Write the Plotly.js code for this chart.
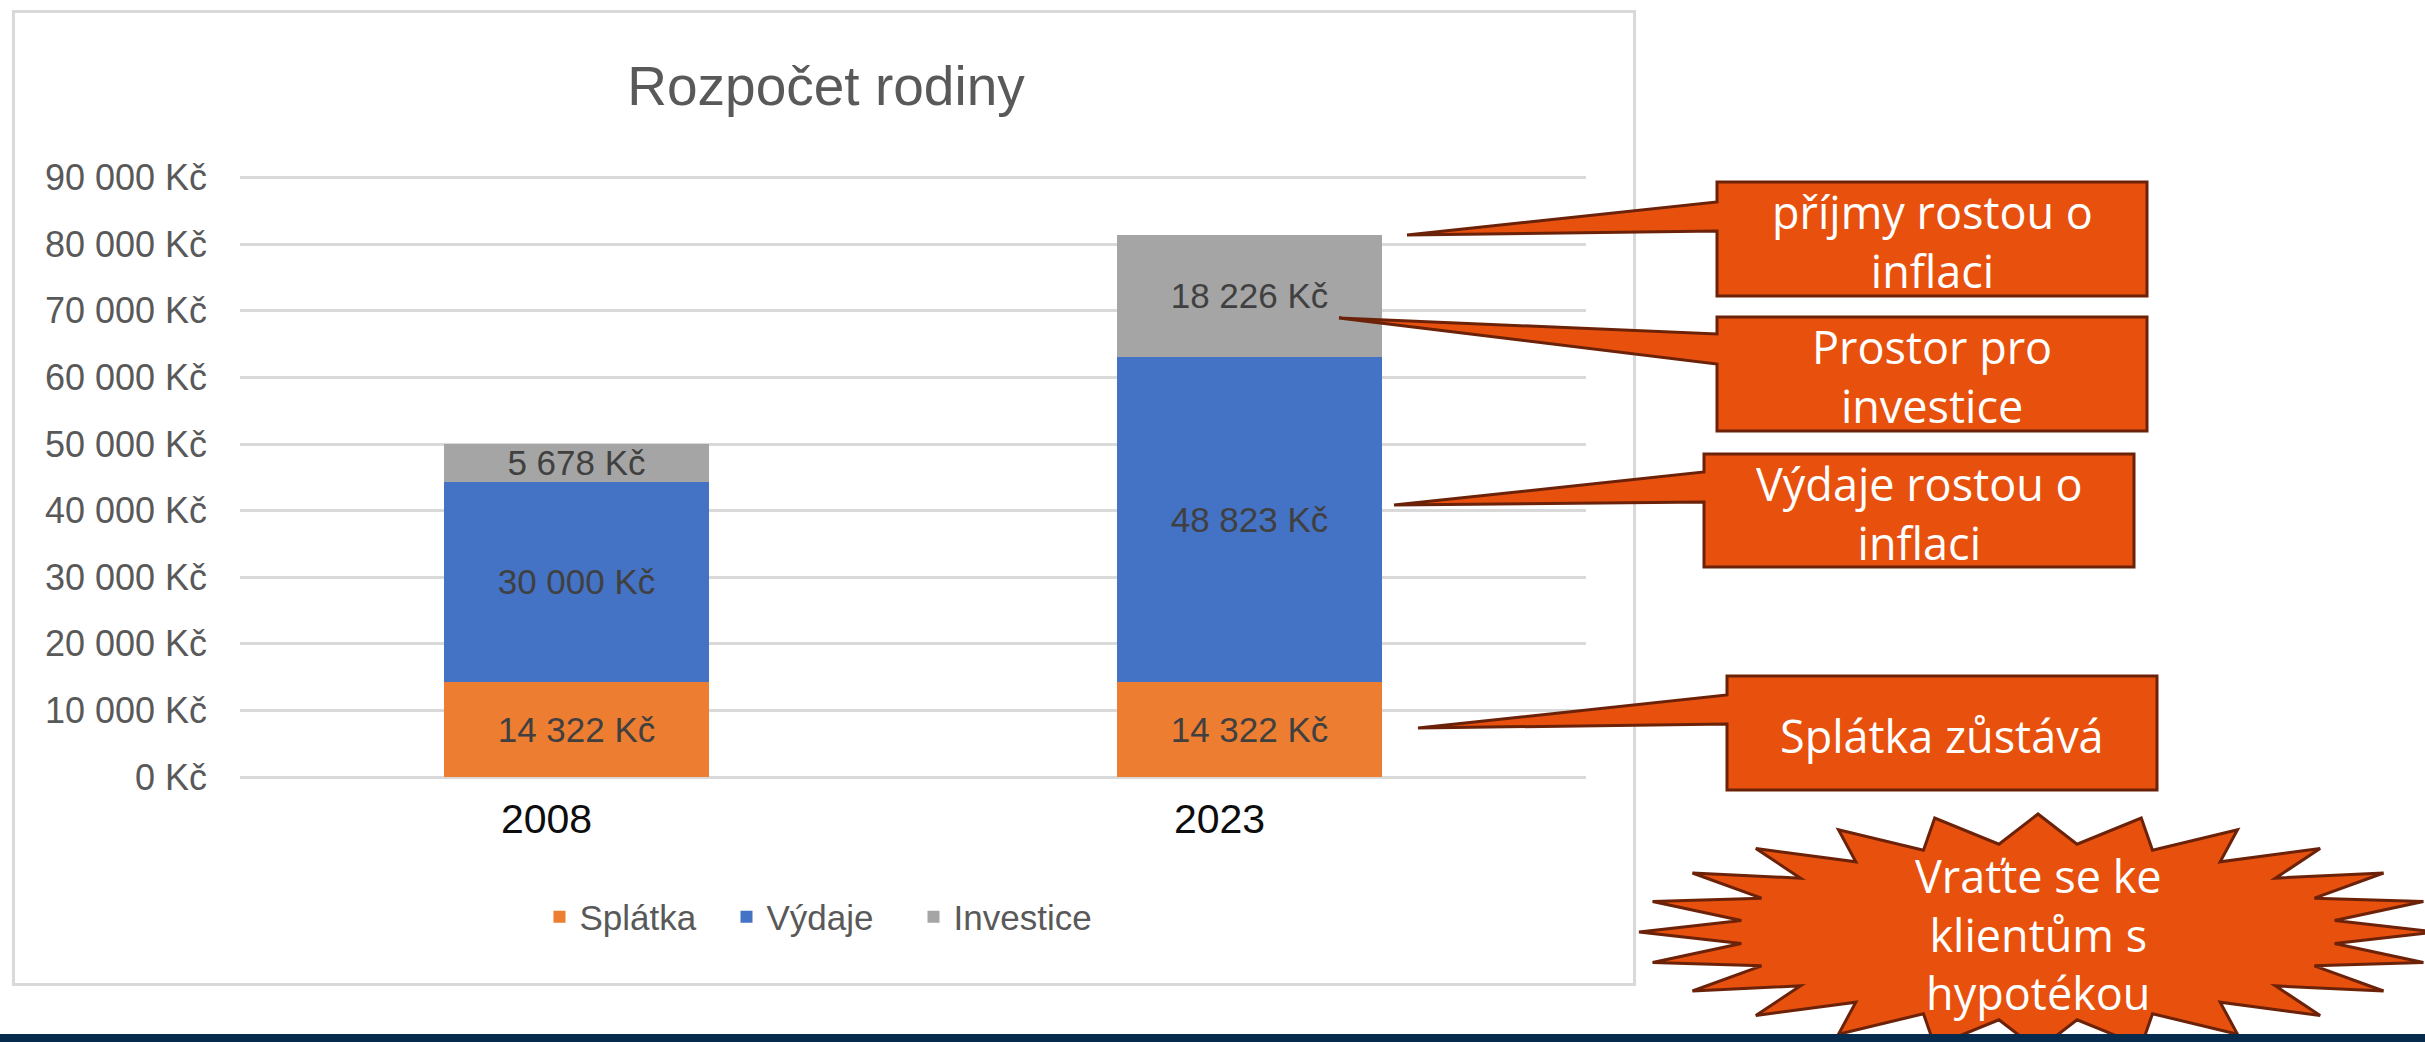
<!DOCTYPE html>
<html>
<head>
<meta charset="utf-8">
<script src="https://cdn.plot.ly/plotly-3.0.1.min.js"></script>
<style>
  html, body { margin: 0; padding: 0; background: #fff; }
  #chart { width: 2425px; height: 1042px; }
</style>
</head>
<body>
<div id="chart"></div>
<script>
// data
const years = ['2008', '2023'];
const splatka = [14322, 14322];
const vydaje = [30000, 48823];
const investice = [5678, 18226];

const W = 2425, H = 1042;
const M = { l: 240, r: 839, t: 175, b: 265 };
const PW = W - M.l - M.r;
const PH = H - M.t - M.b;

// pixel -> paper helpers for the decorations
const px = x => (x - M.l) / PW;
const py = y => 1 - (y - M.t) / PH;

function fmtKc(v) {
    return String(v).replace(/\B(?=(\d{3})+(?!\d))/g, ' ') + ' Kč';
}

const CHART_FONT = '"Liberation Sans", Arial, sans-serif';
const CALLOUT_FONT = '"Open Sans", sans-serif';
const ORANGE = '#E8500E';
const BROWN = '#6B2208';

function barTrace(name, values, color) {
    return {
        type: 'bar',
        name: name,
        x: years,
        y: values,
        text: values.map(fmtKc),
        textposition: 'inside',
        insidetextanchor: 'middle',
        constraintext: 'none',
        textfont: { family: CHART_FONT, size: 35, color: '#404040' },
        marker: { color: color },
        hoverinfo: 'skip'
    };
}

const traces = [
    barTrace('Splátka', splatka, '#ED7D31'),
    barTrace('Výdaje', vydaje, '#4472C4'),
    barTrace('Investice', investice, '#A5A5A5')
];

// callout boxes: box edges, wedge base on left edge, wedge tip (pixels)
const callouts = [
    { box: [1717, 182, 2147, 296], base: [202, 231], tip: [1407, 235], text: 'příjmy rostou o<br>inflaci' },
    { box: [1717, 317, 2147, 431], base: [334, 364], tip: [1339, 318], text: 'Prostor pro<br>investice' },
    { box: [1704, 454, 2134, 567], base: [472, 502], tip: [1394, 505], text: 'Výdaje rostou o<br>inflaci' },
    { box: [1727, 676, 2157, 790], base: [695, 724], tip: [1418, 728], text: 'Splátka zůstává' }
];

const star = { cx: 2038, cy: 932, rx: 399, ry: 118, points: 24, inner: 0.75,
    text: 'Vraťte se ke<br>klientům s<br>hypotékou' };

const shapes = [];
const annotations = [];

// chart frame
shapes.push({
    type: 'rect', xref: 'paper', yref: 'paper', layer: 'below',
    x0: px(13.5), x1: px(1634.5), y0: py(11.5), y1: py(984.5),
    line: { color: '#D9D9D9', width: 3 }, fillcolor: 'rgba(0,0,0,0)'
});

callouts.forEach(c => {
    const [l, t, r, b] = c.box;
    const path = 'M' + px(l) + ',' + py(t) +
        ' L' + px(r) + ',' + py(t) +
        ' L' + px(r) + ',' + py(b) +
        ' L' + px(l) + ',' + py(b) +
        ' L' + px(l) + ',' + py(c.base[1]) +
        ' L' + px(c.tip[0]) + ',' + py(c.tip[1]) +
        ' L' + px(l) + ',' + py(c.base[0]) + ' Z';
    shapes.push({
        type: 'path', xref: 'paper', yref: 'paper', layer: 'above', path: path,
        fillcolor: ORANGE, line: { color: BROWN, width: 3 }
    });
    annotations.push({
        xref: 'paper', yref: 'paper', x: px((l + r) / 2), y: py((t + b) / 2 + 2),
        xanchor: 'center', yanchor: 'middle', showarrow: false, text: c.text,
        font: { family: CALLOUT_FONT, size: 45, color: '#ffffff' }
    });
});

// star burst
let sp = '';
for (let k = 0; k < star.points * 2; k++) {
    const a = Math.PI / 2 + k * Math.PI / star.points;
    const f = k % 2 === 0 ? 1 : star.inner;
    const x = star.cx + star.rx * f * Math.cos(a);
    const y = star.cy - star.ry * f * Math.sin(a);
    sp += (k === 0 ? 'M' : ' L') + px(x) + ',' + py(y);
}
sp += ' Z';
shapes.push({
    type: 'path', xref: 'paper', yref: 'paper', layer: 'above', path: sp,
    fillcolor: ORANGE, line: { color: BROWN, width: 3 }
});
annotations.push({
    xref: 'paper', yref: 'paper', x: px(star.cx), y: py(star.cy + 2),
    xanchor: 'center', yanchor: 'middle', showarrow: false, text: star.text,
    font: { family: CALLOUT_FONT, size: 45, color: '#ffffff' }
});

// bottom band
shapes.push({
    type: 'rect', xref: 'paper', yref: 'paper', layer: 'above',
    x0: px(0), x1: px(W), y0: py(1034), y1: py(H + 5),
    line: { width: 0 }, fillcolor: '#072B4D'
});

const layout = {
    width: W,
    height: H,
    margin: M,
    paper_bgcolor: '#ffffff',
    plot_bgcolor: '#ffffff',
    barmode: 'stack',
    bargap: 0.605,
    separators: ', ',
    font: { family: CHART_FONT, color: '#595959' },
    title: {
        text: 'Rozpočet rodiny',
        xref: 'container', yref: 'container',
        x: 826 / W, y: 1 - 86 / H, xanchor: 'center', yanchor: 'middle',
        font: { family: CHART_FONT, size: 55, color: '#595959' }
    },
    xaxis: {
        type: 'category',
        showgrid: false,
        showline: false,
        zeroline: false,
        ticks: '',
        ticklabelshift: -30,
        ticklabelstandoff: 14,
        tickfont: { family: CHART_FONT, size: 41, color: '#0d0d0d' }
    },
    yaxis: {
        range: [0, 90400],
        tick0: 0,
        dtick: 10000,
        tickformat: ',.0f',
        ticksuffix: ' Kč',
        showgrid: true,
        gridcolor: '#D9D9D9',
        gridwidth: 3,
        zeroline: true,
        zerolinecolor: '#D9D9D9',
        zerolinewidth: 3,
        showline: false,
        ticks: '',
        ticklabelstandoff: 32,
        tickfont: { family: CHART_FONT, size: 36, color: '#595959' }
    },
    showlegend: true,
    legend: {
        orientation: 'h',
        xref: 'container', yref: 'container',
        x: 820 / W, y: 1 - 917 / H,
        xanchor: 'center', yanchor: 'middle',
        traceorder: 'normal',
        entrywidth: 142,
        font: { family: CHART_FONT, size: 35, color: '#595959' }
    },
    shapes: shapes,
    annotations: annotations
};

Plotly.newPlot('chart', traces, layout, { displayModeBar: false, staticPlot: true });
</script>
</body>
</html>
